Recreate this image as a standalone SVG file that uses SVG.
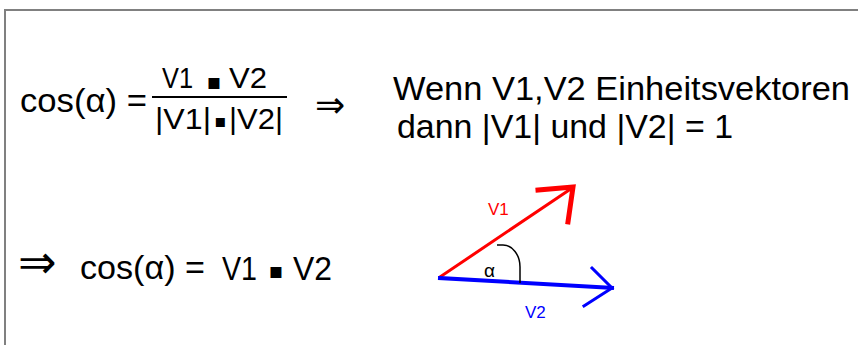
<svg xmlns="http://www.w3.org/2000/svg" width="858" height="345" viewBox="0 0 858 345">
<style>
text { font-family: "Liberation Sans", "DejaVu Sans", sans-serif; fill: #000; }
.sym { font-family: "DejaVu Sans", sans-serif; }
.dot { font-family: "DejaVu Sans", sans-serif; font-size: 22px; text-anchor: middle; }
.red { stroke: #ff0000; fill: none; stroke-linecap: square; }
.blue { stroke: #0000ff; fill: none; stroke-linecap: square; }
</style>
<rect x="0" y="0" width="858" height="345" fill="#fff"/>
<path d="M5,345 V10 H858" fill="none" stroke="#808080" stroke-width="2"/>
<g id="formula1">
<text x="20" y="112" font-size="33" textLength="127" lengthAdjust="spacingAndGlyphs">cos(α) =</text>
<text x="162" y="88" font-size="29" textLength="31" lengthAdjust="spacingAndGlyphs">V1</text>
<text class="dot" x="214" y="89">▪</text>
<text x="229" y="88" font-size="29" textLength="38" lengthAdjust="spacingAndGlyphs">V2</text>
<line x1="152" y1="97" x2="287" y2="97" stroke="#000" stroke-width="2"/>
<text x="155" y="129" font-size="29" textLength="56" lengthAdjust="spacingAndGlyphs">|V1|</text>
<text class="dot" x="220" y="127" style="font-size:18px">▪</text>
<text x="229" y="129" font-size="29" textLength="54" lengthAdjust="spacingAndGlyphs">|V2|</text>
</g>
<g id="implies1">
<text class="sym" x="315" y="117" font-size="36">⇒</text>
</g>
<g id="statement">
<text x="393" y="100" font-size="34" textLength="457" lengthAdjust="spacingAndGlyphs">Wenn V1,V2 Einheitsvektoren</text>
<text x="397" y="138" font-size="34" textLength="336" lengthAdjust="spacingAndGlyphs">dann |V1| und |V2| = 1</text>
</g>
<g id="formula2">
<text class="sym" x="18" y="278" font-size="46">⇒</text>
<text x="80" y="279" font-size="34" textLength="125" lengthAdjust="spacingAndGlyphs">cos(α) =</text>
<text x="222" y="280" font-size="34" textLength="35" lengthAdjust="spacingAndGlyphs">V1</text>
<text class="dot" x="276" y="278">▪</text>
<text x="293" y="280" font-size="34" textLength="39" lengthAdjust="spacingAndGlyphs">V2</text>
</g>
<g id="connectors">
<g id="v1-arrow">
<line class="red" x1="440" y1="277" x2="572" y2="188" stroke-width="3"/>
<polyline class="red" points="538,190 573,187 568,222" stroke-width="5"/>
</g>
<g id="v2-arrow">
<line class="blue" x1="440" y1="278" x2="612" y2="288" stroke-width="4"/>
<polyline class="blue" points="592,268 612,288 584,306" stroke-width="3"/>
</g>
</g>
<g id="angle">
<path d="M497,245 H503 A17,22 0 0 1 520,267 V283" fill="none" stroke="#000" stroke-width="1.5"/>
<text x="484" y="277" font-size="19">α</text>
</g>
<g id="label-v1"><text x="488" y="215" font-size="17" style="fill:#ff0000">V1</text></g>
<g id="label-v2"><text x="525" y="318" font-size="17" style="fill:#0000ff">V2</text></g>
</svg>
